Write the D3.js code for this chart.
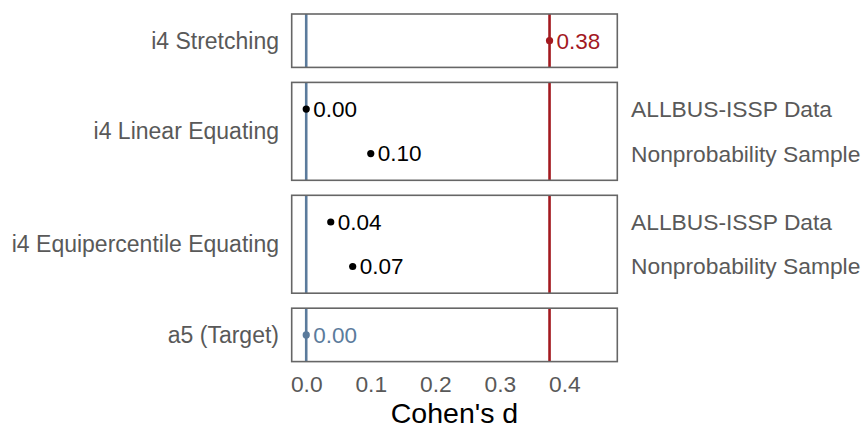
<!DOCTYPE html>
<html>
<head>
<meta charset="utf-8">
<script src="https://cdn.jsdelivr.net/npm/d3@7"></script>
<style>
  body { margin: 0; background: #fff; }
  text { font-family: "Liberation Sans", Arial, sans-serif; }
</style>
</head>
<body>
<div id="chart"></div>
<script>
// facets (top to bottom) and the rows inside each
var facets = ["i4 Stretching", "i4 Linear Equating", "i4 Equipercentile Equating", "a5 (Target)"];
var facetRows = [[""], ["ALLBUS-ISSP Data", "Nonprobability Sample"], ["ALLBUS-ISSP Data", "Nonprobability Sample"], [""]];
var values = [[0.377], [0.0, 0.10], [0.038, 0.072], [0.0]];
var labels = [["0.38"], ["0.00", "0.10"], ["0.04", "0.07"], ["0.00"]];
var pointColors = ["#a3191f", "#000", "#000", "#5b7b9c"];
var targetLine = 0.0, stretchLine = 0.377;
var xTicks = [0.0, 0.1, 0.2, 0.3, 0.4];

var width = 864, height = 426;
var panelLeft = 291.7, panelRight = 617.3, panelTop = 14, gap = 15, unit = 44.5;
var textGrey = "#595959";

var svg = d3.select("#chart").append("svg").attr("width", width).attr("height", height);

var x = d3.scaleLinear().domain([-0.0225, 0.482]).range([panelLeft, panelRight]);

var y0 = panelTop;
facets.forEach(function(f, i) {
	var rows = facetRows[i];
	var h = (rows.length - 1 + 1.2) * unit;
	var y = d3.scalePoint().domain(rows).range([y0 + 0.6 * unit, y0 + h - 0.6 * unit]);
	var g = svg.append("g").attr("class", "panel");

	// reference lines
	g.append("line")
		.attr("x1", x(targetLine)).attr("x2", x(targetLine))
		.attr("y1", y0).attr("y2", y0 + h)
		.style("stroke", "#5b7b9c").style("stroke-width", 2.6);
	g.append("line")
		.attr("x1", x(stretchLine)).attr("x2", x(stretchLine))
		.attr("y1", y0).attr("y2", y0 + h)
		.style("stroke", "#a3191f").style("stroke-width", 2.6);

	rows.forEach(function(r, j) {
		g.append("circle")
			.attr("cx", x(values[i][j])).attr("cy", y(r)).attr("r", 3.6)
			.style("fill", pointColors[i]);
		g.append("text")
			.attr("x", x(values[i][j]) + 7).attr("y", y(r))
			.attr("dy", "0.35em")
			.style("font-size", "22.5px")
			.style("fill", pointColors[i])
			.text(labels[i][j]);
		if (r !== "") {
			svg.append("text")
				.attr("x", 631).attr("y", y(r)).attr("dy", "0.35em")
				.style("font-size", "22.8px").style("fill", textGrey)
				.text(r);
		}
	});

	g.append("rect")
		.attr("x", panelLeft).attr("y", y0).attr("width", panelRight - panelLeft).attr("height", h)
		.style("fill", "none").style("stroke", "#666").style("stroke-width", 1.6);

	svg.append("text")
		.attr("x", 279).attr("y", y0 + h / 2).attr("dy", "0.35em")
		.attr("text-anchor", "end")
		.style("font-size", "23px").style("fill", textGrey)
		.text(f);

	y0 += h + gap;
});

// x axis
var axis = svg.append("g").attr("transform", "translate(0," + (y0 - gap) + ")")
	.call(d3.axisBottom(x).tickValues(xTicks).tickFormat(d3.format(".1f")).tickSize(0).tickPadding(14));
axis.select(".domain").remove();
axis.selectAll("text").style("font-size", "22.8px").style("fill", textGrey)
	.style("font-family", "Liberation Sans, Arial, sans-serif");

svg.append("text")
	.attr("x", (panelLeft + panelRight) / 2).attr("y", 423)
	.attr("text-anchor", "middle")
	.style("font-size", "28.5px").style("fill", "#000")
	.text("Cohen's d");
</script>
</body>
</html>
